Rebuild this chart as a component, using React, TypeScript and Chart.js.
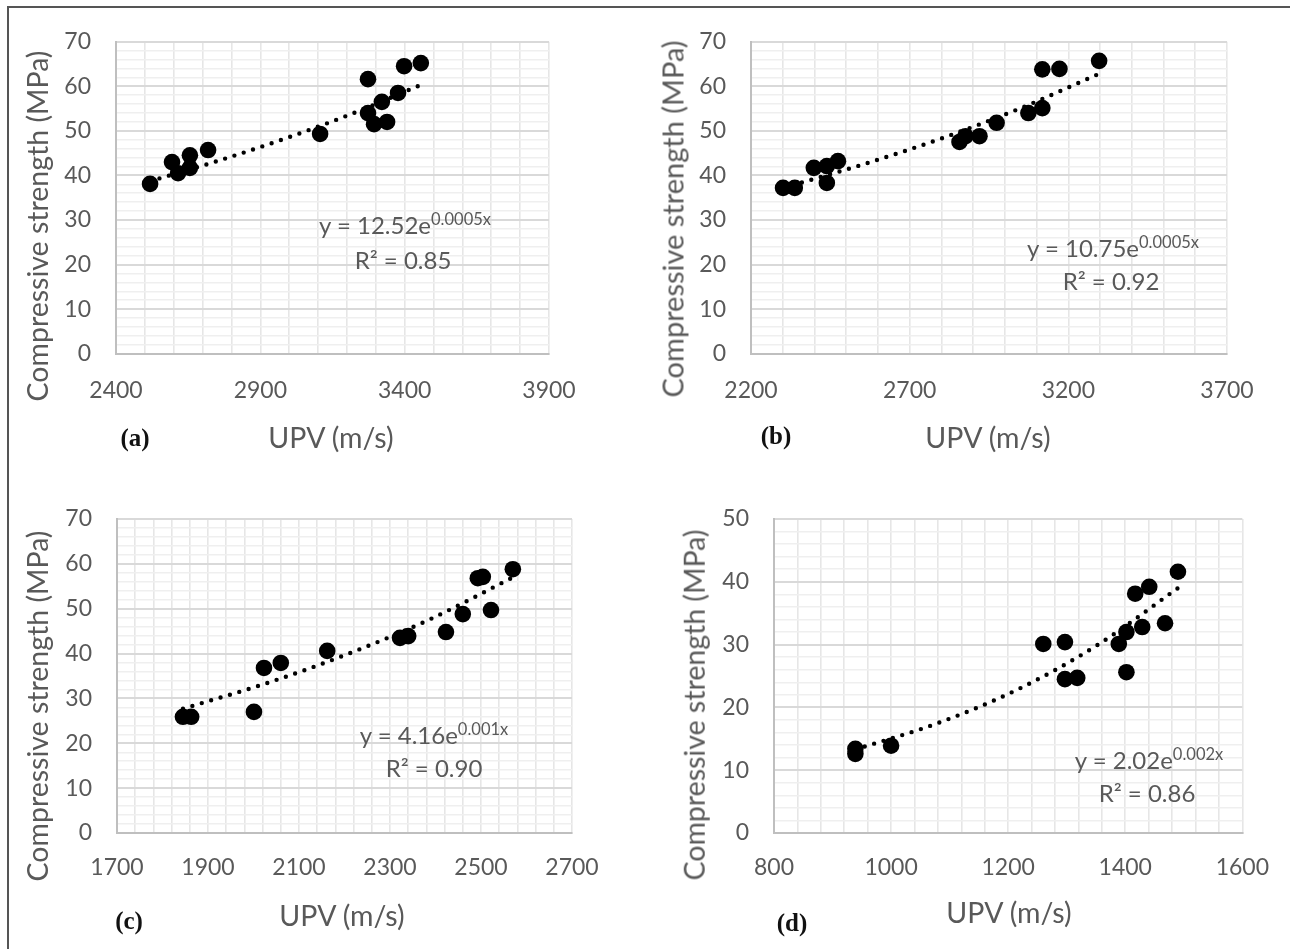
import React, { useEffect, useRef } from "react";
import { Chart, registerables } from "chart.js";

Chart.register(...registerables);

// ---------------- data ----------------
// Panel (a)
const upvA = [2518, 2594, 2615, 2656, 2656, 2719, 3107, 3273, 3273, 3294, 3321, 3339, 3377, 3398, 3456];
const strengthA = [38.1, 43.0, 40.5, 44.5, 41.7, 45.7, 49.3, 61.6, 54.0, 51.5, 56.5, 52.0, 58.5, 64.5, 65.2];
const trendUpvA = [2518, 2750, 2987, 3220, 3456];
const trendStrengthA = [38.7, 43.2, 48.3, 53.9, 60.3];
const xTickLabelsA = [2400, 2900, 3400, 3900];

// Panel (b)
const upvB = [2301, 2338, 2398, 2439, 2439, 2474, 2857, 2876, 2920, 2974, 3074, 3118, 3118, 3172, 3297];
const strengthB = [37.2, 37.2, 41.7, 38.3, 42.1, 43.2, 47.5, 48.8, 48.8, 51.8, 54.0, 55.1, 63.8, 63.9, 65.7];
const trendUpvB = [2301, 2550, 2800, 3050, 3297];
const trendStrengthB = [37.2, 42.4, 48.3, 55.1, 62.8];
const xTickLabelsB = [2200, 2700, 3200, 3700];

// Panel (c)
const upvC = [1845, 1863, 2001, 2023, 2060, 2162, 2322, 2340, 2423, 2460, 2493, 2504, 2522, 2570];
const strengthC = [25.9, 25.9, 27.0, 36.8, 37.9, 40.6, 43.5, 43.9, 44.8, 48.8, 56.8, 57.1, 49.7, 58.8];
const trendUpvC = [1845, 2026, 2207, 2389, 2570];
const trendStrengthC = [27.7, 33.3, 39.9, 47.7, 57.0];
const xTickLabelsC = [1700, 1900, 2100, 2300, 2500, 2700];

// Panel (d)
const upvD = [939, 939, 1000, 1260, 1297, 1297, 1318, 1389, 1402, 1402, 1417, 1429, 1441, 1468, 1490];
const strengthD = [13.4, 12.6, 13.9, 30.1, 30.4, 24.5, 24.7, 30.1, 32.0, 25.6, 38.1, 32.8, 39.2, 33.4, 41.6];
const trendUpvD = [939, 1077, 1215, 1352, 1490];
const trendStrengthD = [13.3, 17.4, 22.8, 29.9, 39.0];
const xTickLabelsD = [800, 1000, 1200, 1400, 1600];

const yTickLabels70 = [0, 10, 20, 30, 40, 50, 60, 70];
const yTickLabels50 = [0, 10, 20, 30, 40, 50];

const panelLetters = ["(a)", "(b)", "(c)", "(d)"];
const eqCoefficients = ["12.52", "10.75", "4.16", "2.02"];
const eqExponents = ["0.0005x", "0.0005x", "0.001x", "0.002x"];
const rSquared = ["0.85", "0.92", "0.90", "0.86"];
const yAxisTitle = "Compressive strength (MPa)";
const xAxisTitle = "UPV (m/s)";

// ---------------- layout ----------------
type Pt = { x: number; y: number };
type PanelCfg = {
  key: string;
  upv: number[];
  strength: number[];
  trendUpv: number[];
  trendStrength: number[];
  xLabels: number[];
  xMinor: number;
  yLabels: number[];
  yMinor: number;
  box: { left: number; top: number; width: number; height: number };
  plot: { left: number; right: number; top: number; bottom: number };
  xPad: number;
  yTitle: Pt;
  yTitleSize: number;
  xTitle: Pt;
  letter: Pt;
  eq: Pt;
  r2: Pt;
};

const PANELS: PanelCfg[] = [
  {
    key: "a", upv: upvA, strength: strengthA, trendUpv: trendUpvA, trendStrength: trendStrengthA,
    xLabels: xTickLabelsA, xMinor: 100, yLabels: yTickLabels70, yMinor: 2,
    box: { left: 0, top: 0, width: 640, height: 470 },
    plot: { left: 116, right: 549, top: 41.7, bottom: 353.7 },
    xPad: 23,
    yTitle: { x: 37, y: 226 }, yTitleSize: 28.5, xTitle: { x: 331, y: 437 }, letter: { x: 135, y: 437 },
    eq: { x: 405, y: 225 }, r2: { x: 403, y: 260 },
  },
  {
    key: "b", upv: upvB, strength: strengthB, trendUpv: trendUpvB, trendStrength: trendStrengthB,
    xLabels: xTickLabelsB, xMinor: 100, yLabels: yTickLabels70, yMinor: 2,
    box: { left: 645, top: 0, width: 645, height: 470 },
    plot: { left: 751, right: 1227, top: 41.7, bottom: 353.7 },
    xPad: 23,
    yTitle: { x: 672, y: 219 }, yTitleSize: 29, xTitle: { x: 988, y: 437 }, letter: { x: 776, y: 435 },
    eq: { x: 1113, y: 248 }, r2: { x: 1111, y: 281 },
  },
  {
    key: "c", upv: upvC, strength: strengthC, trendUpv: trendUpvC, trendStrength: trendStrengthC,
    xLabels: xTickLabelsC, xMinor: 40, yLabels: yTickLabels70, yMinor: 2,
    box: { left: 0, top: 475, width: 640, height: 474 },
    plot: { left: 117, right: 572, top: 519, bottom: 833 },
    xPad: 21,
    yTitle: { x: 37, y: 706 }, yTitleSize: 28.5, xTitle: { x: 342, y: 915 }, letter: { x: 129, y: 920 },
    eq: { x: 434, y: 735 }, r2: { x: 434, y: 768 },
  },
  {
    key: "d", upv: upvD, strength: strengthD, trendUpv: trendUpvD, trendStrength: trendStrengthD,
    xLabels: xTickLabelsD, xMinor: 40, yLabels: yTickLabels50, yMinor: 2,
    box: { left: 645, top: 475, width: 645, height: 474 },
    plot: { left: 774, right: 1251, top: 519, bottom: 833 },
    xPad: 21,
    yTitle: { x: 694, y: 705 }, yTitleSize: 28.5, xTitle: { x: 1009, y: 912 }, letter: { x: 792, y: 922 },
    eq: { x: 1149, y: 760 }, r2: { x: 1147, y: 793 },
  },
];

const TEXT_GRAY = "#595959";
const FONT = "Lato";

function range(a: number, b: number, s: number): number[] {
  const out: number[] = [];
  const n = Math.round((b - a) / s);
  for (let i = 0; i <= n; i++) out.push(a + i * s);
  return out;
}

function PanelChart({ cfg }: { cfg: PanelCfg }) {
  const ref = useRef<HTMLCanvasElement>(null);
  useEffect(() => {
    const canvas = ref.current!;
    const { box, plot } = cfg;
    const xMin = cfg.xLabels[0];
    const xMax = cfg.xLabels[cfg.xLabels.length - 1];
    const yMin = cfg.yLabels[0];
    const yMax = cfg.yLabels[cfg.yLabels.length - 1];
    const xTickVals = range(xMin, xMax, cfg.xMinor);
    const yTickVals = range(yMin, yMax, cfg.yMinor);
    const isXLabel = (v: number) => cfg.xLabels.some((l) => Math.abs(l - v) < 1e-6);
    const isYLabel = (v: number) => cfg.yLabels.some((l) => Math.abs(l - v) < 1e-6);

    const chart = new Chart(canvas, {
      type: "scatter",
      data: {
        datasets: [
          {
            label: "trend",
            data: cfg.trendUpv.map((x, i) => ({ x, y: cfg.trendStrength[i] })),
            showLine: true,
            pointRadius: 0,
            borderColor: "#000",
            backgroundColor: "#000",
            borderWidth: 4.4,
            borderDash: [0, 9.8],
            borderCapStyle: "round",
            cubicInterpolationMode: "monotone",
            fill: false,
            order: 2,
          } as any,
          {
            label: "data",
            data: cfg.upv.map((x, i) => ({ x, y: cfg.strength[i] })),
            pointRadius: 8.3,
            pointBackgroundColor: "#000",
            pointBorderWidth: 0,
            backgroundColor: "#000",
            borderColor: "#000",
            order: 1,
          } as any,
        ],
      },
      options: {
        responsive: false,
        animation: false,
        events: [],
        layout: {
          padding: {
            left: 0,
            top: plot.top - box.top,
            right: box.left + box.width - plot.right,
            bottom: 0,
          },
        },
        plugins: { legend: { display: false }, tooltip: { enabled: false } },
        scales: {
          x: {
            type: "linear",
            min: xMin,
            max: xMax,
            afterBuildTicks: (axis: any) => {
              axis.ticks = xTickVals.map((v) => ({ value: v }));
            },
            afterFit: (axis: any) => {
              axis.height = box.top + box.height - plot.bottom;
            },
            ticks: {
              autoSkip: false,
              maxRotation: 0,
              minRotation: 0,
              padding: cfg.xPad,
              color: TEXT_GRAY,
              font: { family: FONT, size: 23 },
              callback: (v: any) => (isXLabel(Number(v)) ? String(v) : ""),
            },
            grid: {
              drawTicks: false,
              color: (ctx: any) => (ctx.tick && Math.abs(ctx.tick.value - xMin) < 1e-6 ? "#bfbfbf" : "#e6e6e6"),
              lineWidth: 1.6,
            },
            border: { display: true, color: "#bfbfbf", width: 2 },
          },
          y: {
            type: "linear",
            min: yMin,
            max: yMax,
            afterBuildTicks: (axis: any) => {
              axis.ticks = yTickVals.map((v) => ({ value: v }));
            },
            afterFit: (axis: any) => {
              axis.width = plot.left - box.left;
            },
            ticks: {
              autoSkip: false,
              padding: 25,
              color: TEXT_GRAY,
              font: { family: FONT, size: 23 },
              callback: (v: any) => (isYLabel(Number(v)) ? String(v) : ""),
            },
            grid: {
              drawTicks: false,
              color: (ctx: any) => {
                if (!ctx.tick) return "#eeeeee";
                const v = ctx.tick.value;
                if (Math.abs(v - yMin) < 1e-6) return "#bfbfbf";
                return isYLabel(v) ? "#d9d9d9" : "#efefef";
              },
              lineWidth: (ctx: any) => (ctx.tick && isYLabel(ctx.tick.value) ? 2 : 1.5),
            },
            border: { display: true, color: "#bfbfbf", width: 2 },
          },
        },
      } as any,
    });
    let alive = true;
    if ((document as any).fonts && (document as any).fonts.ready) {
      (document as any).fonts.ready.then(() => {
        if (alive) chart.update();
      });
    }
    return () => {
      alive = false;
      chart.destroy();
    };
  }, [cfg]);

  return (
    <canvas
      ref={ref}
      width={cfg.box.width}
      height={cfg.box.height}
      style={{ position: "absolute", left: cfg.box.left, top: cfg.box.top, width: cfg.box.width, height: cfg.box.height }}
    />
  );
}

function Centered({ p, style, children }: { p: Pt; style?: React.CSSProperties; children: React.ReactNode }) {
  return (
    <div
      style={{
        position: "absolute",
        left: p.x,
        top: p.y,
        transform: "translate(-50%, -50%)",
        whiteSpace: "nowrap",
        lineHeight: 1,
        ...style,
      }}
    >
      {children}
    </div>
  );
}

function PanelTexts({ cfg, index }: { cfg: PanelCfg; index: number }) {
  return (
    <>
      <Centered
        p={cfg.yTitle}
        style={{
          transform: "translate(-50%, -50%) rotate(-90deg)",
          fontFamily: FONT,
          fontSize: cfg.yTitleSize,
          color: TEXT_GRAY,
        }}
      >
        {yAxisTitle}
      </Centered>
      <Centered p={cfg.xTitle} style={{ fontFamily: FONT, fontSize: 28.5, color: TEXT_GRAY }}>
        {xAxisTitle}
      </Centered>
      <Centered
        p={cfg.letter}
        style={{ fontFamily: "'Liberation Serif', serif", fontWeight: "bold", fontSize: 25, color: "#111" }}
      >
        {panelLetters[index]}
      </Centered>
      <Centered p={cfg.eq} style={{ fontFamily: FONT, fontSize: 24, color: TEXT_GRAY }}>
        {"y = " + eqCoefficients[index] + "e"}
        <span style={{ fontSize: 16.5, position: "relative", top: -9 }}>{eqExponents[index]}</span>
      </Centered>
      <Centered p={cfg.r2} style={{ fontFamily: FONT, fontSize: 24, color: TEXT_GRAY }}>
        {"R² = " + rSquared[index]}
      </Centered>
    </>
  );
}

export default function App() {
  return (
    <div
      style={{
        position: "absolute",
        left: 0,
        top: 0,
        width: 1290,
        height: 949,
        background: "#fff",
        overflow: "hidden",
      }}
    >
      <div style={{ position: "absolute", left: 7, top: 6, width: 1283, height: 2, background: "#555" }} />
      <div style={{ position: "absolute", left: 7, top: 6, width: 2, height: 943, background: "#555" }} />
      {PANELS.map((p) => (
        <PanelChart key={p.key} cfg={p} />
      ))}
      {PANELS.map((p, i) => (
        <PanelTexts key={"t" + p.key} cfg={p} index={i} />
      ))}
    </div>
  );
}
